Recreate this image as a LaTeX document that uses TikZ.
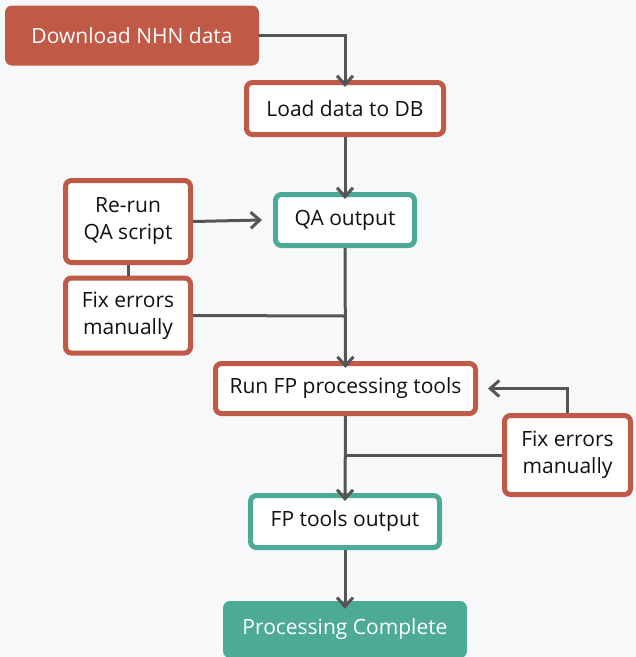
\documentclass[tikz,border=0pt]{standalone}
\usepackage{fontspec}
\setmainfont{Open Sans}
\usetikzlibrary{arrows.meta}
\definecolor{bgc}{HTML}{F7F8FA}
\definecolor{redc}{HTML}{C05A47}
\definecolor{tealc}{HTML}{4DAA96}
\definecolor{linec}{HTML}{555555}
\definecolor{txtc}{HTML}{111111}
\tikzset{
  box/.style={draw=redc, line width=5pt, fill=white, rounded corners=6pt, inner sep=0pt, align=center, text=txtc, font=\fontsize{21}{27}\selectfont},
  tbox/.style={box, draw=tealc},
  fbox/.style={fill=redc, rounded corners=7pt, inner sep=0pt, text=white, font=\fontsize{21}{27}\selectfont},
  tfbox/.style={fbox, fill=tealc},
  conn/.style={draw=linec, line width=3pt},
  arr/.style={conn, -{Straight Barb[length=9pt,width=16pt]}}
}
\begin{document}
\begin{tikzpicture}[x=1pt,y=-1pt]
\fill[bgc] (0,0) rectangle (636,657);
\useasboundingbox (0,0) rectangle (636,657);
\node[fbox, minimum width=254pt, minimum height=60pt] (dl) at (132,35.5) {Download NHN data};
\node[box, minimum width=197pt, minimum height=52pt] (load) at (345,108.5) {Load data to DB};
\node[tbox, minimum width=139pt, minimum height=51pt] (qa) at (345,220) {QA output};
\node[box, minimum width=125pt, minimum height=82pt] (rerun) at (128,221.5) {Re-run\\QA script};
\node[box, minimum width=125pt, minimum height=75pt] (fix1) at (128,315.5) {Fix errors\\manually};
\node[box, minimum width=260pt, minimum height=50pt] (run) at (345.5,388.5) {Run FP processing tools};
\node[box, minimum width=126pt, minimum height=79pt] (fix2) at (567.5,455) {Fix errors\\manually};
\node[tbox, minimum width=189pt, minimum height=52pt] (fpo) at (345,521.5) {FP tools output};
\node[tfbox, minimum width=244pt, minimum height=57pt] (done) at (345,629.5) {Processing Complete};
\coordinate (j1) at (345,316);
\coordinate (j2) at (345,455);
\draw[arr] (dl.east) -| ([yshift=-7pt]load.north);
\draw[arr] (load.south) -- ([yshift=-7pt]qa.north);
\draw[arr] (rerun.east) -- ([xshift=-11pt]qa.west);
\draw[conn] (rerun.south) -- (fix1.north);
\draw[conn] (fix1.east) -- (j1);
\draw[arr] (qa.south) -- ([yshift=-7pt]run.north);
\draw[arr] (fix2.north) |- ([xshift=10pt]run.east);
\draw[conn] (fix2.west) -- (j2);
\draw[arr] (run.south) -- ([yshift=-8pt]fpo.north);
\draw[arr] (fpo.south) -- ([yshift=-8pt]done.north);
\end{tikzpicture}
\end{document}
